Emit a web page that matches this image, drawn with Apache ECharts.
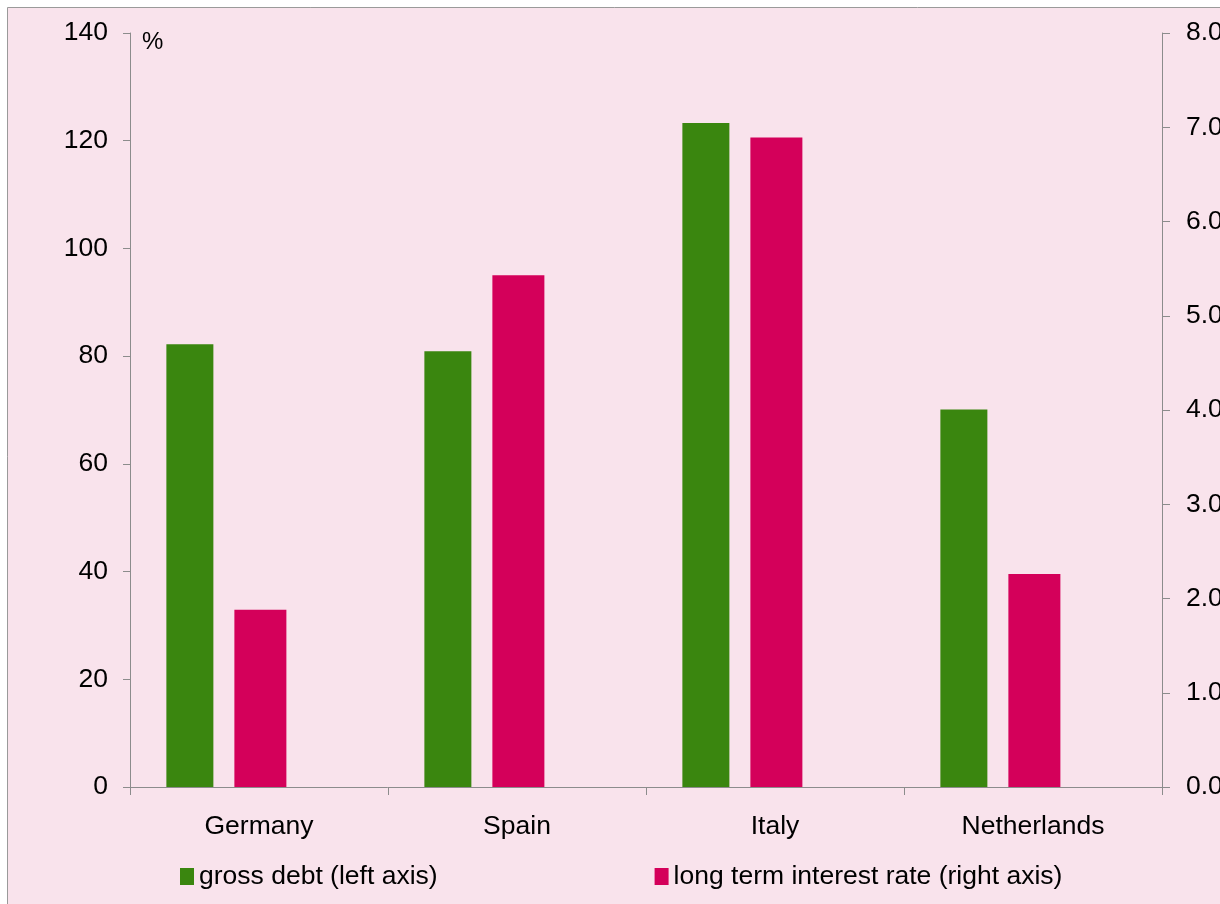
<!DOCTYPE html>
<html>
<head>
<meta charset="utf-8">
<title>Gross debt and long term interest rates</title>
<script src="https://cdn.jsdelivr.net/npm/echarts@6/dist/echarts.min.js"></script>
<style>
  html, body { margin: 0; padding: 0; background: #ffffff; }
  #chart { width: 1220px; height: 904px; }
</style>
</head>
<body>
<div id="chart"></div>
<script>
// Countries and their values
const countries = ['Germany', 'Spain', 'Italy', 'Netherlands'];
const grossDebt = [82.2, 80.9, 123.3, 70.1];        // % of GDP, left axis
const longTermRate = [1.88, 5.43, 6.89, 2.26];      // %, right axis
const emptySlot = ['-', '-', '-', '-'];             // reserves the third bar slot in each group

const debtName = 'gross debt (left axis)';
const rateName = 'long term interest rate (right axis)';

const FONT = 'Liberation Sans, Arial, sans-serif';
const FS = 26.5;
const AXIS_GREY = '#8c8c8c';
const GAP = '44.7%';

const chart = echarts.init(document.getElementById('chart'), null, { renderer: 'canvas' });

chart.setOption({
  backgroundColor: '#ffffff',
  animation: false,
  textStyle: { fontFamily: FONT },
  graphic: [
    {
      type: 'rect',
      z: -10,
      silent: true,
      shape: { x: 7.5, y: 7.5, width: 1240, height: 940 },
      style: { fill: '#f9e3ec', stroke: '#9a9a9a', lineWidth: 1 }
    },
    {
      type: 'text',
      left: 142,
      top: 30,
      style: { text: '%', font: '24px ' + FONT, fill: '#000000' }
    }
  ],
  legend: {
    data: [debtName, rateName],
    left: 180,
    top: 863,
    padding: 0,
    icon: 'rect',
    itemWidth: 14,
    itemHeight: 17,
    itemGap: 217,
    textStyle: { fontSize: FS, color: '#000000', fontFamily: FONT }
  },
  grid: {
    left: 130, right: 58, top: 33, bottom: 117,
    containLabel: false,
    outerBoundsMode: 'none'
  },
  xAxis: {
    type: 'category',
    data: countries,
    axisLine: { lineStyle: { color: AXIS_GREY, width: 1 } },
    axisTick: { show: true, length: 8, lineStyle: { color: AXIS_GREY } },
    axisLabel: { color: '#000000', fontSize: FS, margin: 26, fontFamily: FONT },
    splitLine: { show: false }
  },
  yAxis: [
    {
      type: 'value',
      position: 'left',
      min: 0,
      max: 140,
      interval: 20,
      axisLine: { show: true, lineStyle: { color: AXIS_GREY, width: 1 } },
      axisTick: { show: true, length: 7, lineStyle: { color: AXIS_GREY } },
      axisLabel: { color: '#000000', fontSize: FS, margin: 22, fontFamily: FONT },
      splitLine: { show: false }
    },
    {
      type: 'value',
      position: 'right',
      min: 0,
      max: 8,
      interval: 1,
      axisLine: { show: true, lineStyle: { color: AXIS_GREY, width: 1 } },
      axisTick: { show: true, length: 8, lineStyle: { color: AXIS_GREY } },
      axisLabel: {
        color: '#000000', fontSize: FS, margin: 24, fontFamily: FONT,
        formatter: v => v.toFixed(1)
      },
      splitLine: { show: false }
    }
  ],
  series: [
    {
      name: debtName,
      type: 'bar',
      yAxisIndex: 0,
      data: grossDebt,
      barWidth: 47,
      barGap: GAP,
      itemStyle: { color: '#3a860f' }
    },
    {
      name: rateName,
      type: 'bar',
      yAxisIndex: 1,
      data: longTermRate,
      barWidth: 52,
      barGap: GAP,
      itemStyle: { color: '#d4005a' }
    },
    {
      name: 'spare',
      type: 'bar',
      yAxisIndex: 0,
      data: emptySlot,
      barWidth: 42,
      barGap: GAP,
      silent: true,
      itemStyle: { color: 'transparent' }
    }
  ]
});
</script>
</body>
</html>
